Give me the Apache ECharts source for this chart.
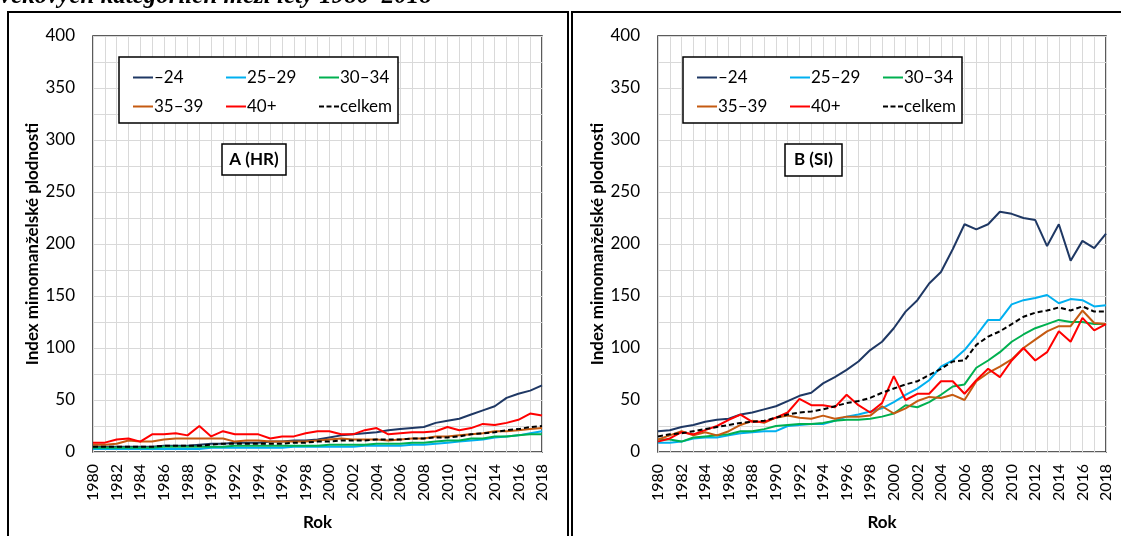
<!DOCTYPE html>
<html><head><meta charset="utf-8">
<script src="https://cdn.jsdelivr.net/npm/echarts@6/dist/echarts.min.js"></script>
<style>html,body{margin:0;padding:0;background:#fff}#c{width:1121px;height:536px}</style>
</head><body><div id="c"></div>
<script>
const years = ['1980','1981','1982','1983','1984','1985','1986','1987','1988','1989','1990','1991','1992','1993','1994','1995','1996','1997','1998','1999','2000','2001','2002','2003','2004','2005','2006','2007','2008','2009','2010','2011','2012','2013','2014','2015','2016','2017','2018'];
const seriesNames = ['–24','25–29','30–34','35–39','40+','celkem'];
const titleText = 'věkových kategoriích mezi léty 1980–2018';
const yAxisTitle = 'Index mimomanželské plodnosti';
const xAxisTitle = 'Rok';
const panelLabels = ['A (HR)','B (SI)'];

// Panel A (HR)
const hr24   = [5,5,5,5,5,5,6,6,6,7, 8,8,9,9,9,10,10,11,11,12, 14,16,17,18,19,21,22,23,24,28, 30,32,36,40,44,52,56,59,64];
const hr2529 = [3,3,3,3,3,3,3,3,3,3, 4,4,4,4,4,4,4,5,5,5, 5,5,5,6,6,6,6,7,7,8, 9,10,11,12,14,15,16,18,20];
const hr3034 = [4,4,4,4,4,4,5,5,5,5, 5,5,6,6,6,6,6,6,6,6, 7,7,7,7,8,8,8,9,9,10, 11,11,13,13,15,15,16,17,17];
const hr3539 = [7,7,8,11,10,10,12,13,13,13, 13,13,10,11,11,10,10,10,10,11, 12,13,12,12,12,11,12,13,13,15, 15,16,17,18,20,20,21,22,23];
const hr40   = [9,9,12,13,10,17,17,18,16,25, 15,20,17,17,17,13,15,15,18,20, 20,17,17,21,23,17,18,19,19,20, 24,21,23,27,26,28,31,37,35];
const hrAll  = [5,5,5,5,5,5,6,6,6,6, 7,8,8,8,8,8,8,9,9,10, 10,11,11,11,12,12,12,13,13,14, 14,15,17,18,19,21,22,24,25];

// Panel B (SI)
const si24   = [20,21,24,26,29,31,32,36,38,41, 44,49,54,57,66,72,79,87,98,106, 119,135,146,162,173,195,219,214,219,231, 229,225,223,198,219,184,203,196,210];
const si2529 = [9,9,10,13,14,14,16,18,19,20, 20,25,26,27,27,30,34,36,39,42, 48,55,61,69,82,88,98,112,127,127, 142,146,148,151,143,147,146,140,141];
const si3034 = [12,12,10,14,15,16,17,20,20,22, 25,26,27,27,28,30,31,31,32,34, 37,45,43,48,55,63,65,81,88,96, 106,113,119,123,127,125,125,123,123];
const si3539 = [12,16,20,16,19,16,20,26,30,28, 33,35,33,32,35,32,34,34,35,44, 37,42,49,53,52,55,50,68,76,82, 89,100,108,116,121,121,136,124,123];
const si40   = [10,13,19,17,21,25,31,36,29,29, 33,38,51,45,45,43,55,45,38,47, 73,50,56,56,68,68,56,69,80,72, 88,100,88,96,116,106,129,117,123];
const siAll  = [15,17,18,20,22,24,26,28,29,30, 33,36,38,39,41,44,47,49,52,57, 61,65,68,74,80,87,88,103,111,116, 123,130,134,136,139,136,140,135,135];

const panelData = [[hr24,hr2529,hr3034,hr3539,hr40,hrAll],[si24,si2529,si3034,si3539,si40,siAll]];
const colors = ['#1f3864','#00b0f0','#00b050','#c55a11','#ff0000','#000000'];

const FONT = 'Lato';
const SOLID_ICON = 'path://M0,0h20v2h-20z';
const DASH_ICON = 'path://M0,0h5v2h-5zM7.5,0h5v2h-5zM15,0h5v2h-5z';
const grids = [
  {left:93, right:579, top:36, bottom:82, show:true, borderColor:'#262626', borderWidth:1.5, backgroundColor:'transparent'},
  {left:658, right:15, top:36, bottom:82, show:true, borderColor:'#262626', borderWidth:1.5, backgroundColor:'transparent'}
];
const xAxes = [0,1].map(g => ({
  type:'category', gridIndex:g, data:years, boundaryGap:false,
  name:xAxisTitle, nameLocation:'middle', nameGap:62,
  nameTextStyle:{fontFamily:FONT, fontWeight:'bold', fontSize:17, color:'#000'},
  axisLine:{show:false}, axisTick:{show:false},
  axisLabel:{interval:1, rotate:90, margin:12, fontFamily:FONT, fontSize:16, color:'#000'},
  splitLine:{show:true, interval:0, lineStyle:{color:'#d9d9d9', width:1}}
}));
const yAxes = [0,1].map(g => ({
  type:'value', gridIndex:g, min:0, max:400, interval:25,
  name:yAxisTitle, nameLocation:'middle', nameGap:52,
  nameTextStyle:{fontFamily:FONT, fontWeight:'bold', fontSize:17, color:'#000'},
  axisLine:{show:false}, axisTick:{show:false},
  axisLabel:{margin:18, fontFamily:FONT, fontSize:17, color:'#000', formatter: v => (v % 50 === 0 ? String(v) : '')},
  splitLine:{show:true, lineStyle:{color:'#d9d9d9', width:1}}
}));
const series = [];
[0,1].forEach(g => {
  seriesNames.forEach((n,i) => {
    series.push({
      type:'line', name:n, xAxisIndex:g, yAxisIndex:g, data:panelData[g][i],
      symbol:'none', showSymbol:false, animation:false, z: 2 + (i===5?2:0),
      lineStyle:{color:colors[i], width:2, type: i===5 ? [5,3] : 'solid'},
      itemStyle:{color:colors[i]}
    });
  });
});
// legends: 3 columns x 2 rows per panel
const boxLeft = [119, 683];
const legends = [];
[0,1].forEach(g => {
  [[0,3],[1,4],[2,5]].forEach((col,c) => {
    legends.push({
      orient:'vertical', left: boxLeft[g] + 9 + c*93, top: 64, itemGap: 12,
      itemWidth:20, itemHeight:14, selectedMode:false,
      data: col.map(k => ({name: seriesNames[k], icon: k===5 ? DASH_ICON : SOLID_ICON})),
      textStyle:{fontFamily:FONT, fontSize:17, color:'#000', padding:[0,0,0,-4]}
    });
  });
});
const graphic = [
  {type:'rect', shape:{x:8, y:12, width:560, height:560}, style:{fill:null, stroke:'#000', lineWidth:2}, z:10},
  {type:'rect', shape:{x:572, y:12, width:600, height:560}, style:{fill:null, stroke:'#000', lineWidth:2}, z:10},
  {type:'rect', shape:{x:119, y:57, width:279, height:66}, style:{fill:'#fff', stroke:'#000', lineWidth:1.5}, z:3},
  {type:'rect', shape:{x:683, y:57, width:279, height:66}, style:{fill:'#fff', stroke:'#000', lineWidth:1.5}, z:3},
  {type:'rect', shape:{x:222, y:144, width:64, height:31}, style:{fill:'#fff', stroke:'#000', lineWidth:1.5}, z:3},
  {type:'rect', shape:{x:785, y:144, width:57, height:32}, style:{fill:'#fff', stroke:'#000', lineWidth:1.5}, z:3},
  {type:'text', x:254, y:160, style:{text:panelLabels[0], font:'bold 17px '+FONT, fill:'#000', align:'center', verticalAlign:'middle'}, z:4},
  {type:'text', x:813.5, y:160, style:{text:panelLabels[1], font:'bold 17px '+FONT, fill:'#000', align:'center', verticalAlign:'middle'}, z:4},
  {type:'text', x:0, y:-16, style:{text:titleText, font:'italic bold 25px "Liberation Serif"', fill:'#000'}, z:4}
];
const chart = echarts.init(document.getElementById('c'), null, {renderer:'canvas'});
chart.setOption({
  animation:false, backgroundColor:'#fff',
  grid:grids, xAxis:xAxes, yAxis:yAxes, series:series, legend:legends, graphic:graphic
});
</script></body></html>
